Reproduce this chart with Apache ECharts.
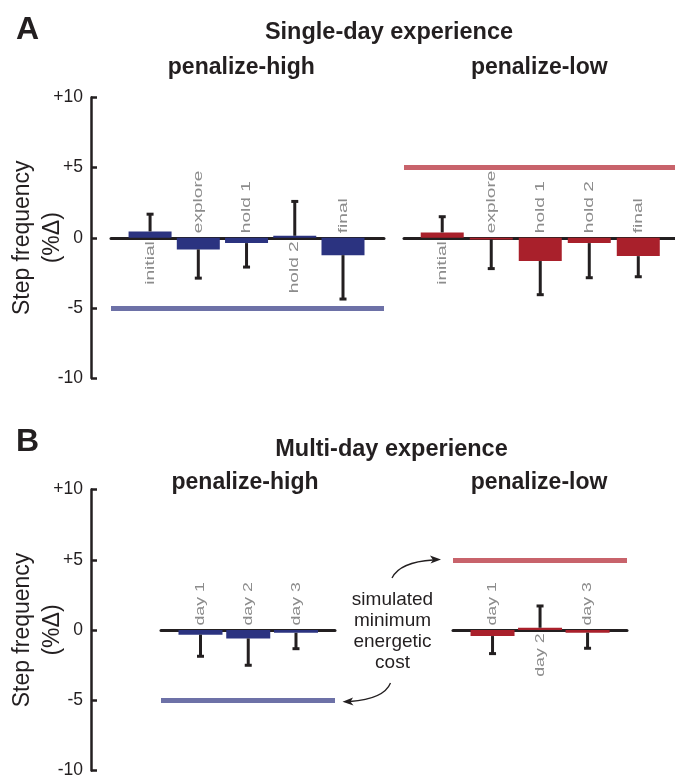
<!DOCTYPE html>
<html>
<head>
<meta charset="utf-8">
<script src="https://cdn.jsdelivr.net/npm/echarts@6/dist/echarts.min.js"></script>
<style>html,body{margin:0;padding:0;background:#fff}#c{width:675px;height:776px}</style>
</head>
<body>
<div id="c"></div>
<script>
// ---- data ----
const catsA = ['initial', 'explore', 'hold 1', 'hold 2', 'final'];
const meanAHigh = [0.45, -0.83, -0.38, 0.14, -1.24];
const errAHigh  = [1.23, 2.05, 1.71, 2.45, 3.13];
const meanALow  = [0.38, -0.12, -1.66, -0.38, -1.31];
const errALow   = [1.12, 2.08, 2.40, 2.47, 1.47];
const catsB = ['day 1', 'day 2', 'day 3'];
const meanBHigh = [-0.33, -0.60, -0.20];
const errBHigh  = [1.54, 1.91, 1.13];
const meanBLow  = [-0.43, 0.16, -0.19];
const errBLow   = [1.25, 1.55, 1.11];
const costHigh = -5;
const costLow = 5;
const yTicks = [-10, -5, 0, 5, 10];

// ---- styling / layout ----
const FONT = '"Liberation Sans", Arial, Helvetica, sans-serif';
const INK = '#231f20';
const BLUE = '#2b3380', RED = '#a9202b';
const BLUE_L = '#6d71a7', RED_L = '#c8636b';

const panels = [
  {grid: {left: 111, top: 97.5, width: 273, height: 280.5}, xr: [0.19, 5.85], cats: catsA, mean: meanAHigh, err: errAHigh, color: BLUE, cost: costHigh, costColor: BLUE_L, showY: true, offset: 20, sc: 1.47, bw: 43},
  {grid: {left: 404, top: 97.5, width: 273, height: 280.5}, xr: [0.22, 5.79], cats: catsA, mean: meanALow, err: errALow, color: RED, cost: costLow, costColor: RED_L, showY: false, offset: 0, sc: 1.47, bw: 43},
  {grid: {left: 161, top: 489.5, width: 174, height: 281}, xr: [0.173, 3.817], cats: catsB, mean: meanBHigh, err: errBHigh, color: BLUE, cost: costHigh, costColor: BLUE_L, showY: true, offset: 70, sc: 1.36, bw: 44},
  {grid: {left: 453, top: 489.5, width: 174, height: 281}, xr: [0.168, 3.83], cats: catsB, mean: meanBLow, err: errBLow, color: RED, cost: costLow, costColor: RED_L, showY: false, offset: 0, sc: 1.36, bw: 44}
];

const grids = [], xAxes = [], yAxes = [], series = [];
panels.forEach((p, i) => {
  grids.push(Object.assign({containLabel: false, outerBoundsMode: 'none'}, p.grid));
  xAxes.push({
    gridIndex: i, type: 'value', min: p.xr[0], max: p.xr[1],
    axisLine: {show: true, onZero: true, lineStyle: {color: INK, width: 3}},
    axisTick: {show: false}, axisLabel: {show: false}, splitLine: {show: false}
  });
  yAxes.push({
    gridIndex: i, type: 'value', min: yTicks[0], max: yTicks[yTicks.length - 1], interval: 5,
    show: p.showY, offset: p.offset, position: 'left',
    axisLine: {show: true, lineStyle: {color: INK, width: 2.5}},
    axisTick: {show: true, inside: true, length: 6, lineStyle: {color: INK, width: 2.5}},
    axisLabel: {fontSize: 17.5, color: INK, margin: 8, fontFamily: FONT,
      formatter: v => (v > 0 ? '+' + v : String(v))},
    splitLine: {show: false},
    name: 'Step frequency\n(%Δ)', nameLocation: 'middle', nameGap: 23, nameMoveOverlap: false,
    nameTextStyle: {fontSize: 23, lineHeight: 30, color: INK, fontFamily: FONT}
  });
  series.push({
    type: 'bar', xAxisIndex: i, yAxisIndex: i, barWidth: p.bw, z: 2,
    itemStyle: {color: p.color},
    data: p.mean.map((v, j) => [j + 1, v]),
    markLine: {
      silent: true, symbol: ['none', 'none'], label: {show: false},
      lineStyle: {color: p.costColor, width: 5, type: 'solid'},
      data: [{yAxis: p.cost}]
    }
  });
  const cats = p.cats, sc = p.sc;
  series.push({
    type: 'custom', xAxisIndex: i, yAxisIndex: i, z: 3,
    encode: {x: 0, y: 1},
    data: p.mean.map((v, j) => [j + 1, v, p.err[j]]),
    renderItem: function (params, api) {
      const x = api.value(0), m = api.value(1), e = api.value(2);
      const s = m >= 0 ? 1 : -1;
      const p0 = api.coord([x, m]);
      const p1 = api.coord([x, m + s * e]);
      const z0 = api.coord([x, 0]);
      return {
        type: 'group',
        children: [
          {type: 'line', shape: {x1: p0[0], y1: p0[1], x2: p1[0], y2: p1[1]}, style: {stroke: INK, lineWidth: 3}},
          {type: 'line', shape: {x1: p1[0] - 3.5, y1: p1[1], x2: p1[0] + 3.5, y2: p1[1]}, style: {stroke: INK, lineWidth: 3}},
          {type: 'text', x: z0[0], y: z0[1] + (s > 0 ? 3.5 : -4.5), rotation: Math.PI / 2, scaleX: sc,
            style: {text: cats[params.dataIndex], fontSize: 13, fontFamily: FONT, fill: '#8c8c8c',
              align: s > 0 ? 'right' : 'left', verticalAlign: 'middle'}}
        ]
      };
    }
  });
});

function txt(text, x, y, size, bold, align) {
  return {type: 'text', x: x, y: y, style: {text: text, fontSize: size, fontWeight: bold ? 'bold' : 'normal',
    fontFamily: FONT, fill: INK, align: align || 'center', verticalAlign: 'middle'}};
}

const graphic = [
  txt('A', 16, 30, 32, true, 'left'),
  txt('Single-day experience', 389, 32.5, 23.5, true),
  txt('penalize-high', 241.3, 68, 23, true),
  txt('penalize-low', 539.3, 68, 23, true),
  txt('B', 16, 442.5, 32, true, 'left'),
  txt('Multi-day experience', 391.5, 449.5, 23.5, true),
  txt('penalize-high', 245, 483, 23, true),
  txt('penalize-low', 539, 483, 23, true),
  {type: 'text', x: 392.5, y: 631, style: {text: 'simulated\nminimum\nenergetic\ncost', fontSize: 19, lineHeight: 21,
    fontFamily: FONT, fill: INK, align: 'center', verticalAlign: 'middle'}},
  {type: 'bezierCurve', shape: {x1: 392, y1: 578, cpx1: 400, cpy1: 562, x2: 433, y2: 560},
    style: {stroke: INK, lineWidth: 1.3, fill: null}},
  {type: 'polygon', shape: {points: [[441, 559.5], [430, 555.5], [433, 560], [430.5, 563.5]]}, style: {fill: INK}},
  {type: 'bezierCurve', shape: {x1: 390.5, y1: 683, cpx1: 384, cpy1: 699, x2: 350, y2: 701.5},
    style: {stroke: INK, lineWidth: 1.3, fill: null}},
  {type: 'polygon', shape: {points: [[342.5, 701.8], [353, 697.5], [350.5, 701.8], [353.5, 705.5]]}, style: {fill: INK}}
];

const chart = echarts.init(document.getElementById('c'), null, {renderer: 'canvas'});
chart.setOption({
  backgroundColor: '#ffffff',
  animation: false,
  grid: grids, xAxis: xAxes, yAxis: yAxes, series: series, graphic: graphic
});
</script>
</body>
</html>
